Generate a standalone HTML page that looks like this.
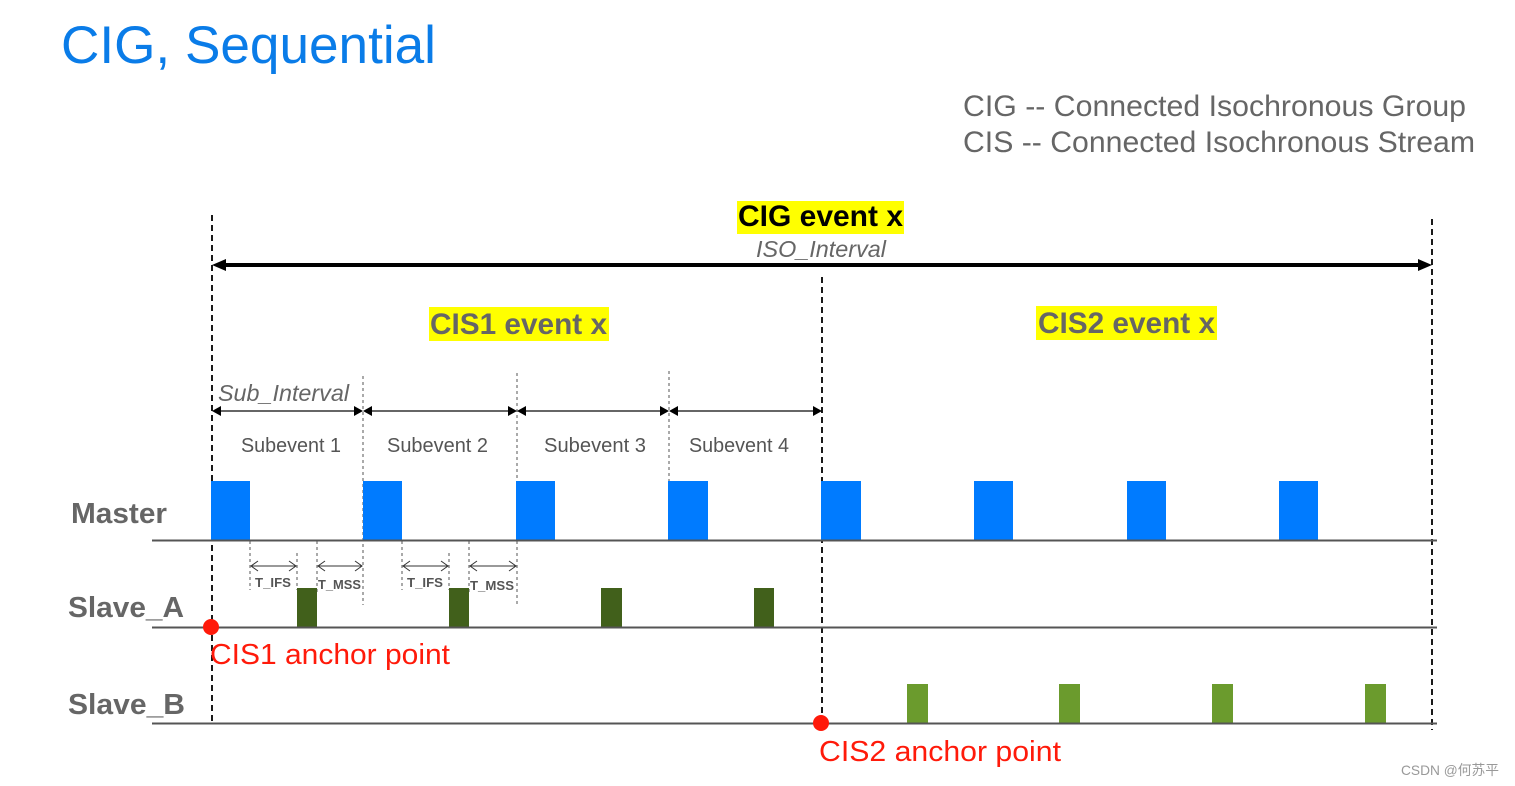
<!DOCTYPE html>
<html><head><meta charset="utf-8"><style>
html,body{margin:0;padding:0;background:#fff;}
svg{display:block;}
text{font-family:"Liberation Sans","Noto Sans CJK SC",sans-serif;}
</style></head><body>
<svg width="1515" height="786" viewBox="0 0 1515 786" xmlns="http://www.w3.org/2000/svg">
<defs>
<marker id="bigL" markerWidth="14" markerHeight="12" refX="0" refY="6" orient="auto" markerUnits="userSpaceOnUse"><path d="M0,6 L14,0 L14,12 Z" fill="#000"/></marker>
</defs>
<rect width="1515" height="786" fill="#fff"/>

<!-- Title -->
<text x="61" y="63" font-size="53" fill="#0a7ce8" textLength="375" lengthAdjust="spacingAndGlyphs">CIG, Sequential</text>

<!-- legend -->
<text x="963" y="116" font-size="30" fill="#666" textLength="503" lengthAdjust="spacingAndGlyphs">CIG -- Connected Isochronous Group</text>
<text x="963" y="152" font-size="30" fill="#666" textLength="512" lengthAdjust="spacingAndGlyphs">CIS -- Connected Isochronous Stream</text>

<!-- CIG event x -->
<rect x="737" y="201" width="167" height="33" fill="#ffff00"/>
<text x="738" y="226" font-size="30" font-weight="bold" fill="#000" textLength="165" lengthAdjust="spacingAndGlyphs">CIG event x</text>
<text x="756" y="257" font-size="23" font-style="italic" fill="#666" textLength="130" lengthAdjust="spacingAndGlyphs">ISO_Interval</text>

<!-- big arrow -->
<line x1="224" y1="265" x2="1420" y2="265" stroke="#000" stroke-width="4"/>
<path d="M212,265 L226,259 L226,271 Z" fill="#000"/>
<path d="M1432,265 L1418,259 L1418,271 Z" fill="#000"/>

<!-- CIS event labels -->
<rect x="429" y="307" width="180" height="34" fill="#ffff00"/>
<text x="430" y="334" font-size="30" font-weight="bold" fill="#666" textLength="177" lengthAdjust="spacingAndGlyphs">CIS1 event x</text>
<rect x="1036" y="306" width="181" height="34" fill="#ffff00"/>
<text x="1038" y="333" font-size="30" font-weight="bold" fill="#666" textLength="177" lengthAdjust="spacingAndGlyphs">CIS2 event x</text>

<!-- main dashed lines -->
<line x1="212" y1="215" x2="212" y2="724" stroke="#000" stroke-width="1.8" stroke-dasharray="6,4"/>
<line x1="822" y1="277" x2="822" y2="716" stroke="#000" stroke-width="1.8" stroke-dasharray="6,4"/>
<line x1="1432" y1="219" x2="1432" y2="730" stroke="#000" stroke-width="1.8" stroke-dasharray="6,4"/>

<!-- subevent separator dotted lines -->
<g stroke="#555" stroke-width="1" stroke-dasharray="3,3">
<line x1="363" y1="376" x2="363" y2="605"/>
<line x1="517" y1="373" x2="517" y2="605"/>
<line x1="669" y1="371" x2="669" y2="481"/>
<!-- T lines group 1 -->
<line x1="250" y1="541" x2="250" y2="590"/>
<line x1="297" y1="553" x2="297" y2="590"/>
<line x1="317" y1="541" x2="317" y2="593"/>
<!-- group 2 -->
<line x1="402" y1="541" x2="402" y2="590"/>
<line x1="449" y1="553" x2="449" y2="590"/>
<line x1="469" y1="541" x2="469" y2="593"/>
</g>

<!-- Sub_Interval -->
<text x="218" y="401" font-size="23" font-style="italic" fill="#666" textLength="131" lengthAdjust="spacingAndGlyphs">Sub_Interval</text>

<!-- sub arrows -->
<g stroke="#333" stroke-width="1.5">
<line x1="218" y1="411" x2="357" y2="411"/>
<line x1="369" y1="411" x2="511" y2="411"/>
<line x1="523" y1="411" x2="663" y2="411"/>
<line x1="675" y1="411" x2="816" y2="411"/>
</g>
<g fill="#000">
<path d="M212,411 L221,406 L221,416 Z"/>
<path d="M363,411 L354,406 L354,416 Z"/>
<path d="M363,411 L372,406 L372,416 Z"/>
<path d="M517,411 L508,406 L508,416 Z"/>
<path d="M517,411 L526,406 L526,416 Z"/>
<path d="M669,411 L660,406 L660,416 Z"/>
<path d="M669,411 L678,406 L678,416 Z"/>
<path d="M822,411 L813,406 L813,416 Z"/>
</g>

<!-- subevent labels -->
<g font-size="20" fill="#555">
<text x="241" y="452" textLength="100" lengthAdjust="spacingAndGlyphs">Subevent 1</text>
<text x="387" y="452" textLength="101" lengthAdjust="spacingAndGlyphs">Subevent 2</text>
<text x="544" y="452" textLength="102" lengthAdjust="spacingAndGlyphs">Subevent 3</text>
<text x="689" y="452" textLength="100" lengthAdjust="spacingAndGlyphs">Subevent 4</text>
</g>

<!-- row labels -->
<g font-size="29" font-weight="bold" fill="#666">
<text x="71" y="523" textLength="96" lengthAdjust="spacingAndGlyphs">Master</text>
<text x="68" y="617" textLength="116" lengthAdjust="spacingAndGlyphs">Slave_A</text>
<text x="68" y="714" textLength="117" lengthAdjust="spacingAndGlyphs">Slave_B</text>
</g>

<!-- master blocks -->
<g fill="#007bff">
<rect x="211" y="481" width="39" height="59"/>
<rect x="363" y="481" width="39" height="59"/>
<rect x="516" y="481" width="39" height="59"/>
<rect x="668" y="481" width="40" height="59"/>
<rect x="821" y="481" width="40" height="59"/>
<rect x="974" y="481" width="39" height="59"/>
<rect x="1127" y="481" width="39" height="59"/>
<rect x="1279" y="481" width="39" height="59"/>
</g>

<!-- slave A blocks -->
<g fill="#41601b">
<rect x="297" y="588" width="20" height="39"/>
<rect x="449" y="588" width="20" height="39"/>
<rect x="601" y="588" width="21" height="39"/>
<rect x="754" y="588" width="20" height="39"/>
</g>

<!-- slave B blocks -->
<g fill="#6b9b2d">
<rect x="907" y="684" width="21" height="39"/>
<rect x="1059" y="684" width="21" height="39"/>
<rect x="1212" y="684" width="21" height="39"/>
<rect x="1365" y="684" width="21" height="39"/>
</g>

<!-- timeline lines -->
<g stroke="#555" stroke-width="2">
<line x1="152" y1="540.5" x2="1437" y2="540.5"/>
<line x1="152" y1="627.5" x2="1437" y2="627.5"/>
<line x1="152" y1="723.5" x2="1437" y2="723.5"/>
</g>

<!-- T arrows -->
<g stroke="#333" stroke-width="1" fill="none">
<line x1="251" y1="566" x2="296" y2="566"/>
<path d="M258,561 L251,566 L258,571 M289,561 L296,566 L289,571"/>
<line x1="318" y1="566" x2="362" y2="566"/>
<path d="M325,561 L318,566 L325,571 M355,561 L362,566 L355,571"/>
<line x1="403" y1="566" x2="448" y2="566"/>
<path d="M410,561 L403,566 L410,571 M441,561 L448,566 L441,571"/>
<line x1="470" y1="566" x2="516" y2="566"/>
<path d="M477,561 L470,566 L477,571 M509,561 L516,566 L509,571"/>
</g>
<g font-size="13" font-weight="bold" fill="#555">
<text x="255" y="587" textLength="36" lengthAdjust="spacingAndGlyphs">T_IFS</text>
<text x="318" y="589" textLength="43" lengthAdjust="spacingAndGlyphs">T_MSS</text>
<text x="407" y="587" textLength="36" lengthAdjust="spacingAndGlyphs">T_IFS</text>
<text x="470" y="590" textLength="44" lengthAdjust="spacingAndGlyphs">T_MSS</text>
</g>

<!-- anchor points -->
<circle cx="211" cy="627" r="8" fill="#ff1a0a"/>
<circle cx="821" cy="723" r="8" fill="#ff1a0a"/>
<text x="210" y="664" font-size="29" fill="#ff1a0a" textLength="240" lengthAdjust="spacingAndGlyphs">CIS1 anchor point</text>
<text x="819" y="761" font-size="29" fill="#ff1a0a" textLength="242" lengthAdjust="spacingAndGlyphs">CIS2 anchor point</text>

<!-- watermark -->
<text x="1401" y="775" font-size="14" fill="#999" textLength="98" lengthAdjust="spacingAndGlyphs">CSDN @何苏平</text>
</svg>
</body></html>
